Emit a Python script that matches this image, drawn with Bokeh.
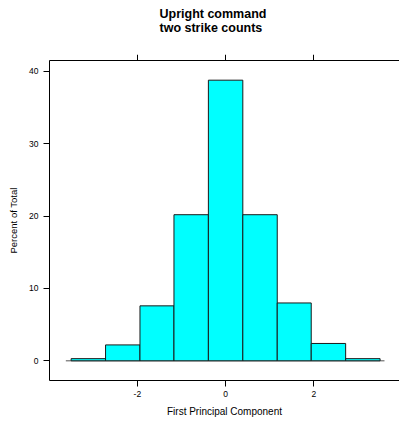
from bokeh.plotting import figure
from bokeh.models import (Range1d, LinearAxis, FixedTicker, ColumnDataSource,
                          CustomJSTickFormatter)
from bokeh.embed import file_html
from bokeh.resources import INLINE

# Histogram data (percent of total per bin)
bin_edges = [-3.5, -2.72, -1.94, -1.17, -0.39, 0.39, 1.17, 1.94, 2.72, 3.5]
percents = [0.3, 2.2, 7.6, 20.2, 38.8, 20.2, 8.0, 2.4, 0.3]
x_ticks = [-2, 0, 2]
y_ticks = [0, 10, 20, 30, 40]
baseline_span = [-3.62, 3.6]
title_text = "Upright command\ntwo strike counts"

FONT = "Liberation Sans"

src = ColumnDataSource(dict(
    left=bin_edges[:-1],
    right=bin_edges[1:],
    top=percents,
    bottom=[0] * len(percents),
))

p = figure(width=399, height=422, output_backend="svg", toolbar_location=None,
           x_range=Range1d(-3.99, 3.94), y_range=Range1d(-2.72, 41.52),
           min_border_left=49, min_border_right=0, min_border_top=60,
           min_border_bottom=42, title=title_text)

p.outline_line_color = None
p.xgrid.visible = False
p.ygrid.visible = False
p.background_fill_color = "white"
p.border_fill_color = "white"

p.title.align = "left"
p.title.offset = 110
p.title.text_font = FONT
p.title.text_font_size = "12.5px"
p.title.text_font_style = "bold"
p.title.text_color = "black"
p.title.standoff = 7

# baseline
p.line(x=baseline_span, y=[0, 0], line_color="#555555", line_width=1)

p.quad(left="left", right="right", top="top", bottom="bottom", source=src,
       fill_color="#00FFFF", line_color="#1a1a1a", line_width=1)

fmt = CustomJSTickFormatter(code="return tick.toFixed(0);")

for ax in (p.xaxis[0], p.yaxis[0]):
    ax.major_tick_in = 0
    ax.major_tick_out = 6
    ax.minor_tick_line_color = None
    ax.axis_line_color = "black"
    ax.major_tick_line_color = "black"
    ax.major_label_text_font = FONT
    ax.major_label_text_font_size = "8.5px"
    ax.major_label_text_color = "black"
    ax.axis_label_text_font = FONT
    ax.axis_label_text_font_size = "10px"
    ax.axis_label_text_font_style = "normal"
    ax.axis_label_text_color = "black"
    ax.formatter = fmt

p.xaxis[0].ticker = FixedTicker(ticks=x_ticks)
p.yaxis[0].ticker = FixedTicker(ticks=y_ticks)
p.xaxis[0].axis_label = "First Principal Component"
p.yaxis[0].axis_label = "Percent of Total"
p.yaxis[0].axis_label_text_font_size = "9.5px"
p.xaxis[0].major_label_standoff = 4
p.yaxis[0].major_label_standoff = 5
p.xaxis[0].axis_label_standoff = 6
p.yaxis[0].axis_label_standoff = 7

# top axis: ticks only
top_axis = LinearAxis(ticker=FixedTicker(ticks=x_ticks), major_tick_in=0,
                      major_tick_out=6, minor_tick_line_color=None,
                      major_label_text_color=None, major_label_standoff=0,
                      major_label_text_font_size="8.5px",
                      axis_line_color="black", major_tick_line_color="black")
p.add_layout(top_axis, "above")

# invisible spacer between the top ticks and the title
spacer_axis = LinearAxis(ticker=FixedTicker(ticks=x_ticks), major_tick_in=0,
                         major_tick_out=16, minor_tick_line_color=None,
                         major_label_text_color=None, major_label_standoff=0,
                         major_label_text_font_size="8.5px",
                         axis_line_color=None, major_tick_line_color="white")
p.add_layout(spacer_axis, "above")

open("out.html", "w").write(file_html(p, INLINE))
